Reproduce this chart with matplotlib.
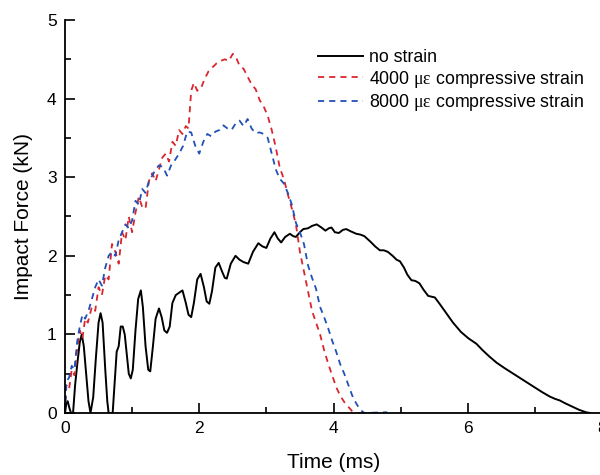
import matplotlib
matplotlib.use("Agg")
import matplotlib.pyplot as plt
from matplotlib.ticker import MultipleLocator

plt.rcParams['font.family'] = ['Liberation Sans', 'DejaVu Sans']
plt.rcParams['mathtext.fontset'] = 'custom'
plt.rcParams['mathtext.rm'] = 'Liberation Serif'

# no strain
t_none = [0.00, 0.02, 0.04, 0.07, 0.09, 0.12, 0.15, 0.18, 0.22, 0.25, 0.28, 0.32, 0.35, 0.38,
          0.42, 0.46, 0.50, 0.53, 0.56, 0.60, 0.63, 0.65, 0.71, 0.74, 0.77, 0.80, 0.83, 0.86,
          0.89, 0.92, 0.95, 0.98, 1.01, 1.05, 1.09, 1.13, 1.16, 1.20, 1.24, 1.27, 1.31, 1.35,
          1.40, 1.44, 1.48, 1.52, 1.56, 1.60, 1.65, 1.70, 1.75, 1.80, 1.84, 1.88, 1.92, 1.97,
          2.02, 2.07, 2.11, 2.15, 2.19, 2.24, 2.29, 2.34, 2.38, 2.41, 2.47, 2.54, 2.60, 2.66,
          2.73, 2.80, 2.88, 2.94, 3.00, 3.06, 3.12, 3.17, 3.22, 3.28, 3.35, 3.40, 3.44, 3.50,
          3.55, 3.62, 3.68, 3.75, 3.82, 3.88, 3.93, 3.97, 4.02, 4.08, 4.14, 4.19, 4.26, 4.34,
          4.40, 4.46, 4.55, 4.62, 4.69, 4.75, 4.81, 4.88, 4.94, 4.99, 5.05, 5.10, 5.16, 5.22,
          5.28, 5.34, 5.41, 5.46, 5.51, 5.58, 5.68, 5.78, 5.90, 6.01, 6.13, 6.22, 6.32, 6.43,
          6.55, 6.66, 6.77, 6.88, 6.99, 7.10, 7.22, 7.30, 7.37, 7.46, 7.56, 7.66, 7.76, 7.82]
f_none = [0.00, 0.12, 0.15, 0.05, 0.00, 0.00, 0.35, 0.60, 0.90, 1.00, 0.85, 0.45, 0.15, 0.00,
          0.20, 0.70, 1.15, 1.27, 1.15, 0.55, 0.15, 0.00, 0.00, 0.40, 0.78, 0.85, 1.10, 1.10,
          1.00, 0.75, 0.50, 0.44, 0.55, 1.05, 1.45, 1.56, 1.35, 0.85, 0.55, 0.53, 0.85, 1.20,
          1.33, 1.22, 1.05, 1.02, 1.10, 1.40, 1.50, 1.53, 1.56, 1.40, 1.25, 1.22, 1.40, 1.70,
          1.77, 1.60, 1.42, 1.39, 1.55, 1.85, 1.91, 1.80, 1.72, 1.71, 1.90, 2.00, 1.95, 1.92,
          1.90, 2.05, 2.16, 2.12, 2.10, 2.22, 2.30, 2.22, 2.17, 2.24, 2.28, 2.25, 2.24, 2.30,
          2.34, 2.35, 2.38, 2.40, 2.36, 2.32, 2.35, 2.36, 2.30, 2.29, 2.33, 2.34, 2.31, 2.28,
          2.27, 2.25, 2.18, 2.12, 2.07, 2.07, 2.05, 2.00, 1.95, 1.93, 1.85, 1.76, 1.69, 1.68,
          1.65, 1.57, 1.49, 1.48, 1.47, 1.39, 1.27, 1.15, 1.03, 0.95, 0.88, 0.80, 0.72, 0.64,
          0.57, 0.51, 0.45, 0.39, 0.33, 0.27, 0.21, 0.18, 0.16, 0.12, 0.08, 0.04, 0.01, 0.00]

# 4000 microstrain
t_4000 = [0.00, 0.02, 0.06, 0.10, 0.14, 0.18, 0.22, 0.26, 0.30, 0.34, 0.40, 0.45, 0.50, 0.55,
          0.60, 0.65, 0.70, 0.75, 0.80, 0.85, 0.90, 0.95, 1.00, 1.05, 1.10, 1.15, 1.20, 1.25,
          1.30, 1.35, 1.40, 1.45, 1.50, 1.55, 1.60, 1.65, 1.70, 1.75, 1.80, 1.84, 1.88, 1.92,
          1.97, 2.02, 2.08, 2.14, 2.20, 2.26, 2.32, 2.38, 2.44, 2.50, 2.55, 2.60, 2.66, 2.72,
          2.78, 2.84, 2.90, 2.96, 3.02, 3.08, 3.14, 3.20, 3.26, 3.32, 3.38, 3.44, 3.50, 3.56,
          3.62, 3.68, 3.74, 3.80, 3.86, 3.92, 3.98, 4.04, 4.10, 4.16, 4.22, 4.28, 4.35, 4.60]
f_4000 = [0.00, 0.35, 0.30, 0.55, 0.48, 0.80, 1.05, 0.95, 1.20, 1.15, 1.35, 1.30, 1.60, 1.50,
          1.75, 1.70, 2.15, 2.05, 1.90, 2.30, 2.20, 2.50, 2.30, 2.55, 2.75, 2.62, 2.60, 2.95,
          3.05, 2.95, 3.10, 3.25, 3.30, 3.20, 3.45, 3.40, 3.60, 3.55, 3.65, 3.62, 4.10, 4.20,
          4.10, 4.12, 4.25, 4.35, 4.40, 4.45, 4.48, 4.50, 4.48, 4.57, 4.52, 4.42, 4.38, 4.28,
          4.18, 4.12, 3.98, 3.90, 3.78, 3.60, 3.38, 3.12, 2.98, 2.78, 2.60, 2.40, 2.05, 1.80,
          1.55, 1.30, 1.15, 1.00, 0.80, 0.63, 0.48, 0.33, 0.22, 0.14, 0.08, 0.02, 0.00, 0.00]

# 8000 microstrain
t_8000 = [0.00, 0.02, 0.06, 0.10, 0.14, 0.18, 0.22, 0.26, 0.30, 0.35, 0.40, 0.45, 0.50, 0.55,
          0.60, 0.65, 0.70, 0.75, 0.80, 0.85, 0.90, 0.95, 1.00, 1.05, 1.10, 1.15, 1.20, 1.25,
          1.30, 1.35, 1.40, 1.46, 1.52, 1.58, 1.64, 1.70, 1.76, 1.82, 1.88, 1.94, 2.00, 2.06,
          2.12, 2.18, 2.24, 2.30, 2.36, 2.42, 2.48, 2.54, 2.60, 2.66, 2.72, 2.78, 2.84, 2.90,
          2.96, 3.02, 3.08, 3.14, 3.20, 3.26, 3.32, 3.38, 3.44, 3.50, 3.56, 3.62, 3.68, 3.74,
          3.80, 3.86, 3.92, 3.98, 4.04, 4.10, 4.16, 4.22, 4.28, 4.34, 4.40, 4.46, 4.80]
f_8000 = [0.00, 0.40, 0.45, 0.60, 0.55, 0.90, 1.10, 1.25, 1.20, 1.30, 1.45, 1.60, 1.70, 1.62,
          1.85, 2.00, 2.05, 2.00, 2.20, 2.30, 2.40, 2.35, 2.45, 2.70, 2.65, 2.85, 2.80, 2.95,
          3.02, 3.10, 3.15, 3.13, 3.02, 3.15, 3.22, 3.30, 3.40, 3.58, 3.57, 3.40, 3.30, 3.45,
          3.55, 3.52, 3.58, 3.60, 3.66, 3.62, 3.60, 3.68, 3.72, 3.65, 3.74, 3.62, 3.56, 3.57,
          3.55, 3.50, 3.30, 3.10, 2.98, 2.92, 2.80, 2.65, 2.42, 2.30, 2.15, 1.88, 1.72, 1.58,
          1.35, 1.22, 1.08, 0.92, 0.78, 0.62, 0.50, 0.36, 0.22, 0.12, 0.04, 0.00, 0.01]

fig = plt.figure(figsize=(6, 4.75), dpi=100)
ax = fig.add_axes([65/600, 62/475, 537/600, 393/475])

ax.plot(t_none, f_none, color='black', lw=1.4, label='no strain')
ax.plot(t_4000, f_4000, color='#d9262e', lw=1.3, dashes=(3.4, 2.8),
        label='4000 $\\mathrm{\\mu\\epsilon}$ compressive strain')
ax.plot(t_8000, f_8000, color='#2150b8', lw=1.3, dashes=(3.4, 2.8),
        label='8000 $\\mathrm{\\mu\\epsilon}$ compressive strain')

ax.set_xlim(0, 8)
ax.set_ylim(0, 5)
ax.xaxis.set_major_locator(MultipleLocator(2))
ax.xaxis.set_minor_locator(MultipleLocator(1))
ax.yaxis.set_major_locator(MultipleLocator(1))
ax.yaxis.set_minor_locator(MultipleLocator(0.5))
ax.tick_params(which='major', direction='in', length=7, width=1.2, labelsize=12.5, pad=6)
ax.tick_params(which='minor', direction='in', length=4, width=1.2)
ax.spines['top'].set_visible(False)
ax.spines['right'].set_visible(False)
ax.spines['left'].set_linewidth(1.3)
ax.spines['bottom'].set_linewidth(1.3)

ax.set_xlabel('Time (ms)', fontsize=15, labelpad=12)
ax.set_ylabel('Impact Force (kN)', fontsize=15, labelpad=10)

ax.legend(loc='upper left', bbox_to_anchor=(318/600, 1 - 49/475), bbox_transform=fig.transFigure,
          frameon=False, fontsize=12.75, handlelength=2.55, handletextpad=0.34,
          labelspacing=0.15, borderpad=0, borderaxespad=0)

fig.savefig('out.png', dpi=100)
